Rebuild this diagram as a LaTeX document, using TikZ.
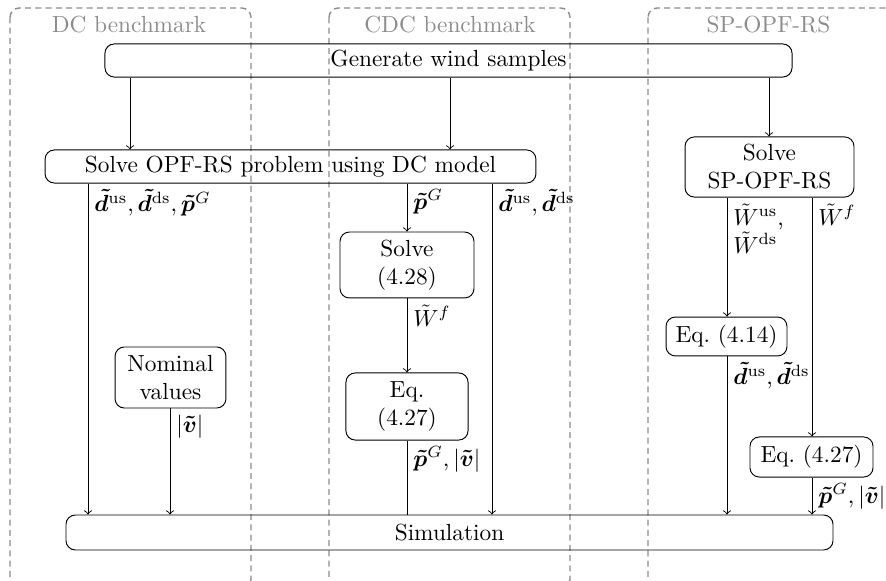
\documentclass[tikz,border=0pt]{standalone}
\usepackage{amsmath,bm}
\begin{document}
\begin{tikzpicture}[x=0.4292pt,y=-0.4292pt,
  box/.style={draw, rounded corners=4pt, align=center, inner sep=2pt},
  lane/.style={draw=black!45, semithick, dash pattern=on 2.6pt off 1.8pt, rounded corners=4pt},
  lanetitle/.style={text=black!45},
  flow/.style={->},
  lbl/.style={anchor=north west, inner sep=2.5pt, align=left},
]
\useasboundingbox (0,0) rectangle (886,581);
% lanes
\draw[lane] (10,8) rectangle (251,588);
\draw[lane] (329,8) rectangle (570,588);
\draw[lane] (648,8) rectangle (910,588);
\node[lanetitle] (t1) at (129,25) {DC benchmark};
\node[lanetitle] (t2) at (450,25) {CDC benchmark};
\node[lanetitle] (t3) at (768.5,25) {SP-OPF-RS};
% nodes
\node[box, minimum width=294.9pt, minimum height=14.2pt] (gen) at (448.5,60.5) {Generate wind samples};
\node[box, minimum width=210.7pt, minimum height=14.2pt] (opf) at (290.5,166.5) {Solve OPF-RS problem using DC model};
\node[box, minimum width=72.5pt, minimum height=25.8pt] (spsolve) at (769.5,167) {Solve\\SP-OPF-RS};
\node[box, minimum width=57.5pt, minimum height=28.3pt] (solve28) at (407,265) {Solve\\(4.28)};
\node[box, minimum width=52.4pt, minimum height=28.8pt] (eqa) at (407,406.5) {Eq.\\(4.27)};
\node[box, minimum width=47.6pt, minimum height=26.2pt] (nom) at (170.5,377.5) {Nominal\\values};
\node[box, minimum width=51.9pt, minimum height=16.7pt] (eq14) at (726.5,336.5) {Eq.~(4.14)};
\node[box, minimum width=52.8pt, minimum height=17.2pt] (eqb) at (811.5,457) {Eq.~(4.27)};
\node[box, minimum width=329.2pt, minimum height=15pt] (sim) at (449.5,532.5) {Simulation};
% x positions of connectors
\coordinate (xa) at (130,0);
\coordinate (xb) at (450,0);
\coordinate (xc) at (769,0);
\coordinate (xd) at (88,0);
\coordinate (xe) at (407,0);
\coordinate (xf) at (492,0);
\coordinate (xg) at (170,0);
\coordinate (xh) at (727,0);
\coordinate (xi) at (812,0);
% connectors
\draw[flow] (gen.south -| xa) -- (opf.north -| xa);
\draw[flow] (gen.south -| xb) -- (opf.north -| xb);
\draw[flow] (gen.south -| xc) -- (spsolve.north -| xc);
\draw[flow] (opf.south -| xd) -- node[lbl,pos=0] {$\bm{\tilde d}^{\mathrm{us}}, \bm{\tilde d}^{\mathrm{ds}}, \bm{\tilde p}^{G}$} (sim.north -| xd);
\draw[flow] (opf.south -| xe) -- node[lbl,pos=0] {$\bm{\tilde p}^{G}$} (solve28.north -| xe);
\draw[flow] (opf.south -| xf) -- node[lbl,pos=0] {$\bm{\tilde d}^{\mathrm{us}}, \bm{\tilde d}^{\mathrm{ds}}$} (sim.north -| xf);
\draw[flow] (solve28.south -| xe) -- node[lbl,pos=0] {$\tilde W^{f}$} (eqa.north -| xe);
\draw (eqa.south -| xe) -- node[lbl,pos=0] {$\bm{\tilde p}^{G}, |\bm{\tilde v}|$} (sim.north -| xe);
\draw[flow] (nom.south -| xg) -- node[lbl,pos=0] {$|\bm{\tilde v}|$} (sim.north -| xg);
\draw[flow] (spsolve.south -| xh) -- node[lbl,pos=0] {$\tilde W^{\mathrm{us}}$,\\$\tilde W^{\mathrm{ds}}$} (eq14.north -| xh);
\draw[flow] (spsolve.south -| xi) -- node[lbl,pos=0] {$\tilde W^{f}$} (eqb.north -| xi);
\draw[flow] (eq14.south -| xh) -- node[lbl,pos=0] {$\bm{\tilde d}^{\mathrm{us}}, \bm{\tilde d}^{\mathrm{ds}}$} (sim.north -| xh);
\draw[flow] (eqb.south -| xi) -- node[lbl,pos=0] {$\bm{\tilde p}^{G}, |\bm{\tilde v}|$} (sim.north -| xi);
\end{tikzpicture}
\end{document}
